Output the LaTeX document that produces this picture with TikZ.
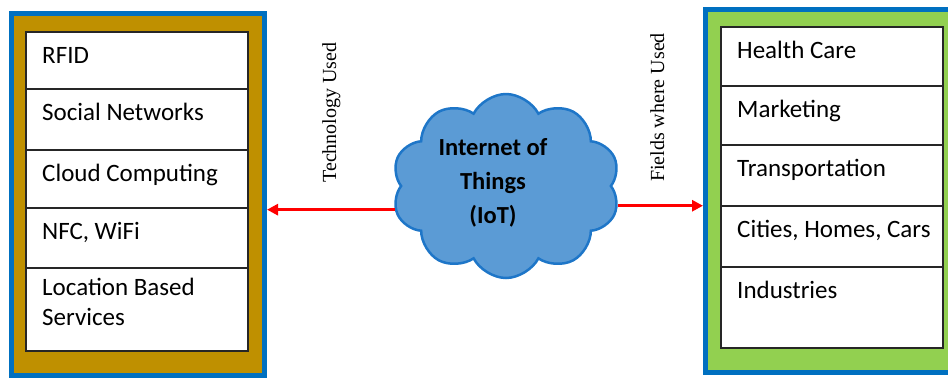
\documentclass[tikz,border=0pt]{standalone}
\usepackage{fontspec}
\setmainfont{Carlito}
\newfontfamily\timesfont{Liberation Serif}
\usetikzlibrary{shapes.symbols, arrows.meta, positioning}

\definecolor{frameblue}{RGB}{0,112,192}
\definecolor{techgold}{RGB}{191,144,0}
\definecolor{fieldgreen}{RGB}{146,208,80}
\definecolor{cloudfill}{RGB}{91,155,213}
\definecolor{cloudline}{RGB}{30,118,200}

\begin{document}
\begin{tikzpicture}[x=1pt,y=-1pt,>={Triangle[length=11pt,width=11pt]},
        frame/.style={draw=frameblue,line width=5pt},
        row/.style={draw=black!85,line width=1.3pt,fill=white,minimum width=222pt,
          inner sep=0pt,outer sep=0pt,anchor=north west},
        item/.style={anchor=north west,inner sep=0pt,align=left,
          font=\fontsize{25}{30}\selectfont,execute at begin node=\strut},
        side/.style={rotate=90,anchor=base,inner sep=0pt,
          font=\timesfont\fontsize{20}{24}\selectfont},
        link/.style={->,red,line width=3pt}]

    \useasboundingbox (0,0) rectangle (948,378);

    % the two framed panels
    \node[frame,fill=techgold,minimum width=253pt,minimum height=362pt]   (tech)   at (138,194.5) {};
    \node[frame,fill=fieldgreen,minimum width=246pt,minimum height=363pt] (fields) at (828.5,191) {};

    % technology rows
    \node[row,minimum height=57pt] (t1) at (26,32) {};
    \node[row,minimum height=61pt] (t2) [below=0pt of t1] {};
    \node[row,minimum height=58pt] (t3) [below=0pt of t2] {};
    \node[row,minimum height=60pt] (t4) [below=0pt of t3] {};
    \node[row,minimum height=83pt] (t5) [below=0pt of t4] {};

    % field rows
    \node[row,minimum height=59pt] (f1) at (721,27) {};
    \node[row,minimum height=59pt] (f2) [below=0pt of f1] {};
    \node[row,minimum height=61pt] (f3) [below=0pt of f2] {};
    \node[row,minimum height=61pt] (f4) [below=0pt of f3] {};
    \node[row,minimum height=81pt] (f5) [below=0pt of f4] {};

    \foreach \r/\txt in {t1/RFID, t2/Social Networks, t3/Cloud Computing,
                         t4/{NFC, WiFi}, t5/{Location Based\\Services},
                         f1/Health Care, f2/Marketing, f3/Transportation,
                         f4/{Cities, Homes, Cars}, f5/Industries}
      \node[item] at ([shift={(16pt,-10pt)}]\r.north west) {\txt};

    % the cloud in the middle
    \node[cloud,cloud puffs=10,cloud puff arc=125,aspect=1.25,draw=cloudline,
          line width=2.5pt,fill=cloudfill,minimum width=228pt,minimum height=184pt,
          inner sep=0pt] (iot) at (506,186) {};
    \node[align=center,font=\bfseries\fontsize{24.5}{34}\selectfont] (iottext) at (493,183)
      {Internet of\\Things\\(IoT)};

    \node[side] (techlabel)  at (336,112.5) {Technology Used};
    \node[side] (fieldlabel) at (664,107.5) {Fields where Used};

    \draw[link] (iot.192) -- (iot.192 -| tech.east);
    \draw[link] (iot.-10) -- (iot.-10 -| fields.west);
\end{tikzpicture}
\end{document}
